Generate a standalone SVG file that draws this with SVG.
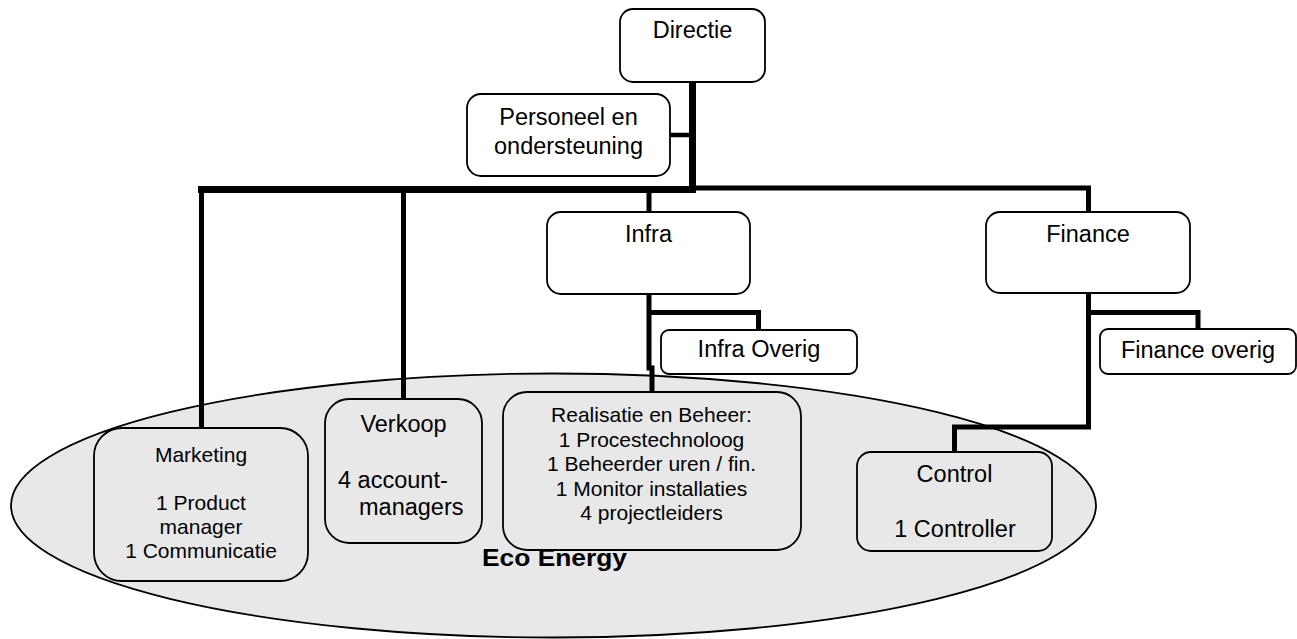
<svg xmlns="http://www.w3.org/2000/svg" width="1297" height="639" viewBox="0 0 1297 639">
<style>
.box{fill:#ffffff;stroke:#000;stroke-width:1.8}
.ibox{fill:none;stroke:#000;stroke-width:1.8}
.t{font-family:"Liberation Sans",Arial,sans-serif;font-size:23.5px;fill:#000;text-anchor:middle}
.s{font-family:"Liberation Sans",Arial,sans-serif;font-size:21px;fill:#000;text-anchor:middle}
.st{text-anchor:start}
.c{stroke:#000;fill:none;stroke-linecap:butt}
</style>
<rect width="1297" height="639" fill="#ffffff"/>
<g id="eco-energy">
<ellipse cx="553.5" cy="505.5" rx="542.5" ry="132" fill="#e8e8e8" stroke="#000" stroke-width="1.8"/>
<text x="482" y="566" font-family="Liberation Sans, Arial, sans-serif" font-size="23" font-weight="bold" textLength="145" lengthAdjust="spacingAndGlyphs">Eco Energy</text>
</g>
<g id="connectors">
<line class="c" x1="692.5" y1="82" x2="692.5" y2="193" stroke-width="7"/>
<line class="c" x1="670" y1="135" x2="692" y2="135" stroke-width="4.5"/>
<line class="c" x1="198" y1="189.5" x2="696" y2="189.5" stroke-width="7"/>
<line class="c" x1="692" y1="188" x2="1091" y2="188" stroke-width="5"/>
<line class="c" x1="201.5" y1="187" x2="201.5" y2="428" stroke-width="5"/>
<line class="c" x1="403.5" y1="187" x2="403.5" y2="399" stroke-width="5"/>
<line class="c" x1="649" y1="190" x2="649" y2="212" stroke-width="5"/>
<line class="c" x1="1088.5" y1="186" x2="1088.5" y2="212" stroke-width="5"/>
<path class="c" d="M649 294 V368 H652 V392" stroke-width="5"/>
<path class="c" d="M649 312.5 H758.5 V330" stroke-width="5"/>
<path class="c" d="M1088.5 293 V427 H954.5 V452" stroke-width="5"/>
<path class="c" d="M1088.5 312.5 H1198 V329" stroke-width="5"/>
</g>
<g id="directie">
<rect class="box" x="620" y="9" width="145" height="73" rx="13"/>
<text class="t" x="692.5" y="38">Directie</text>
</g>
<g id="personeel">
<rect class="box" x="467" y="94" width="203" height="82" rx="14"/>
<text class="t" x="568.5" y="125">Personeel en</text>
<text class="t" x="568.5" y="154">ondersteuning</text>
</g>
<g id="infra">
<rect class="box" x="547" y="212" width="203" height="82" rx="14"/>
<text class="t" x="648.5" y="242">Infra</text>
</g>
<g id="infra-overig">
<rect class="box" x="661" y="330" width="196" height="44" rx="8"/>
<text class="t" x="759" y="357">Infra Overig</text>
</g>
<g id="finance">
<rect class="box" x="986" y="212" width="204" height="81" rx="14"/>
<text class="t" x="1088" y="242">Finance</text>
</g>
<g id="finance-overig">
<rect class="box" x="1100" y="329" width="196" height="45" rx="8"/>
<text class="t" x="1198" y="358">Finance overig</text>
</g>
<g id="marketing">
<rect class="ibox" x="94" y="428" width="214" height="153" rx="28"/>
<text class="s" x="201" y="462">Marketing</text>
<text class="s" x="201" y="510">1 Product</text>
<text class="s" x="201" y="534">manager</text>
<text class="s" x="201" y="558">1 Communicatie</text>
</g>
<g id="verkoop">
<rect class="ibox" x="325" y="399" width="157" height="144" rx="24"/>
<text class="t" x="403.5" y="432">Verkoop</text>
<text class="t st" x="338" y="488">4 account-</text>
<text class="t st" x="359" y="515">managers</text>
</g>
<g id="realisatie">
<rect class="ibox" x="503" y="392" width="298" height="158" rx="24"/>
<text class="s" x="651.5" y="422">Realisatie en Beheer:</text>
<text class="s" x="651.5" y="446.5">1 Procestechnoloog</text>
<text class="s" x="651.5" y="471">1 Beheerder uren / fin.</text>
<text class="s" x="651.5" y="495.5">1 Monitor installaties</text>
<text class="s" x="651.5" y="520">4 projectleiders</text>
</g>
<g id="control">
<rect class="ibox" x="857" y="452" width="195" height="99" rx="14"/>
<text class="t" x="954.5" y="482">Control</text>
<text class="t" x="955" y="537">1 Controller</text>
</g>
</svg>
